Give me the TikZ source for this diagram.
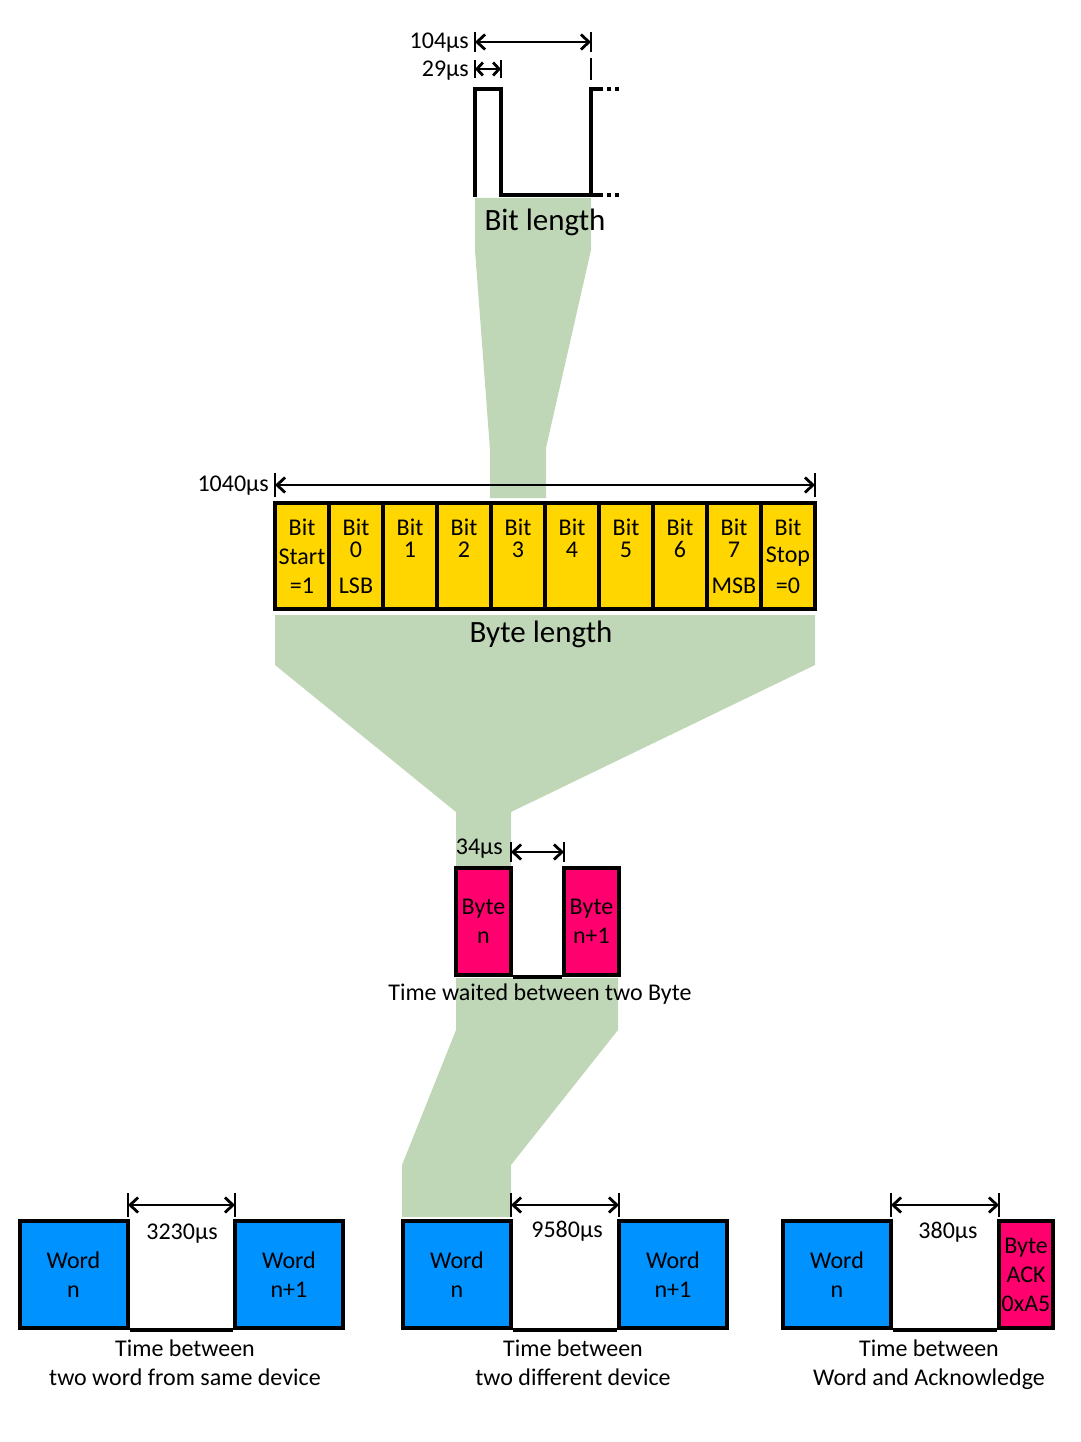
\documentclass[tikz,border=0pt]{standalone}
\usepackage{fontspec}
\setmainfont{Carlito}
\usetikzlibrary{arrows.meta}
\definecolor{bandgreen}{RGB}{192,215,183}
\definecolor{cellyellow}{RGB}{255,214,0}
\definecolor{bytepink}{RGB}{255,0,110}
\definecolor{wordblue}{RGB}{0,146,255}
\tikzset{
 boxline/.style={draw=black,line width=4pt},
 wordbox/.style={boxline,fill=wordblue,minimum width=108pt,minimum height=107pt,inner sep=0pt,align=center,font=\fontsize{24}{29}\selectfont},
 pinkbox/.style={boxline,fill=bytepink,minimum height=107pt,inner sep=0pt,align=center,font=\fontsize{24}{29}\selectfont},
 dimline/.style={line width=2.8pt,{Straight Barb[length=8pt,width=15pt]}-{Straight Barb[length=8pt,width=15pt]}},
 tickline/.style={line width=1.5pt},
 lbl/.style={font=\fontsize{24}{29}\selectfont,inner sep=0pt},
 caption/.style={font=\fontsize{24}{29}\selectfont,inner sep=0pt,align=center,anchor=north},
 pairlbl/.style={font=\fontsize{24}{22}\selectfont,inner sep=0pt,align=center},
 biglbl/.style={font=\fontsize{31}{36}\selectfont,inner sep=0pt},
 wave/.style={line width=4pt,line join=miter},
}
\begin{document}
\begin{tikzpicture}[x=1pt,y=-1pt]
\useasboundingbox (0,0) rectangle (1080,1442);
% green bands
\fill[bandgreen] (475,198) -- (591,198) -- (591,250) -- (546,448) -- (546,498) -- (490,498) -- (490,450) -- (475,250) -- cycle;
\fill[bandgreen] (275,615) -- (815,615) -- (815,665) -- (511,812) -- (511,866) -- (456,866) -- (456,812) -- (275,665) -- cycle;
\fill[bandgreen] (456,978) -- (618,978) -- (618,1030) -- (511,1165) -- (511,1217) -- (402,1217) -- (402,1165) -- (456,1030) -- cycle;

% bit waveform
\draw[wave] (475,197) -- (475,89) -- (501,89) -- (501,195) -- (591,195) -- (591,89) -- (603,89);
\draw[wave] (591,195) -- (603,195);
\foreach \yy in {89,195}{
  \fill (607,\yy-2) rectangle (611,\yy+2);
  \fill (615,\yy-2) rectangle (619,\yy+2);
}
\coordinate (a1) at (475,42); \coordinate (b1) at (591,42);
\coordinate (a2) at (475,69); \coordinate (b2) at (501,69);
\draw[tickline] (475,32) -- (475,52) (591,32) -- (591,52);
\draw[tickline] (475,60) -- (475,78) (501,60) -- (501,78) (591,58) -- (591,80);
\draw[dimline] (a1) -- (b1);
\draw[dimline,{Straight Barb[length=6pt,width=13pt]}-{Straight Barb[length=6pt,width=13pt]}] (a2) -- (b2);
\node[lbl,anchor=east] (l104) at (469,43) {104µs};
\node[lbl,anchor=east] (l29) at (469,71) {29µs};
\node[biglbl] (bitlen) at (545,222) {Bit length};

% byte
\coordinate (a3) at (275,485); \coordinate (b3) at (815,485);
\draw[tickline] (275,473) -- (275,497) (815,473) -- (815,497);
\draw[dimline] (a3) -- (b3);
\node[lbl,anchor=east] (l1040) at (269,486) {1040µs};
\foreach \i in {0,...,9}{
  \draw[boxline,line width=3.5pt,fill=cellyellow] (275+54*\i,503) rectangle (329+54*\i,609);
}
\draw[boxline] (275,503) rectangle (815,609);
\foreach \i/\n in {1/0,2/1,3/2,4/3,5/4,6/5,7/6,8/7}{
  \node[pairlbl] (bt\i) at (302+54*\i,538) {Bit\\\n};
}
\node[lbl] (bt0) at (302,527) {Bit};
\node[lbl] (bs0) at (302,557) {Start};
\node[lbl] (bv0) at (302,586) {=1};
\node[lbl] (bl1) at (356,586) {LSB};
\node[lbl] (bm8) at (734,586) {MSB};
\node[lbl] (bt9) at (788,527) {Bit};
\node[lbl] (bs9) at (788,557) {Stop};
\node[lbl] (bv9) at (788,586) {=0};
\node[biglbl] (bytelen) at (541,634) {Byte length};

% bytes
\coordinate (a4) at (511,852); \coordinate (b4) at (564,852);
\draw[tickline] (511,842) -- (511,862) (564,842) -- (564,862);
\draw[dimline] (a4) -- (b4);
\node[lbl,anchor=east] (l34) at (503,849) {34µs};
\node[pinkbox,minimum width=55pt] (byten) at (483.5,921) {Byte\\n};
\node[pinkbox,minimum width=55pt] (byten1) at (591.5,921) {Byte\\n+1};
\draw[boxline] (byten.south east) -- (byten1.south west);
\node[lbl] (twait) at (540,994) {Time waited between two Byte};

% words group 1
\node[wordbox] (w1n) at (73.5,1274.5) {Word\\n};
\node[wordbox] (w1m) at (289,1274.5) {Word\\n+1};
\draw[boxline] (w1n.south east) -- (w1m.south west);
\draw[tickline] (128,1193) -- (128,1217) (235,1193) -- (235,1217);
\coordinate (a5) at (128,1205); \coordinate (b5) at (235,1205);
\draw[dimline] (a5) -- (b5);
\node[lbl] (l3230) at (182,1234) {3230µs};
\node[caption] (c1) at (185,1340) {Time between\\two word from same device};

% words group 2
\node[wordbox] (w2n) at (457,1274.5) {Word\\n};
\node[wordbox] (w2m) at (673,1274.5) {Word\\n+1};
\draw[boxline] (w2n.south east) -- (w2m.south west);
\draw[tickline] (511,1193) -- (511,1217) (619,1193) -- (619,1217);
\coordinate (a6) at (511,1205); \coordinate (b6) at (619,1205);
\draw[dimline] (a6) -- (b6);
\node[lbl] (l9580) at (567,1231) {9580µs};
\node[caption] (c2) at (573,1340) {Time between\\two different device};

% words group 3
\node[wordbox] (w3n) at (837,1274.5) {Word\\n};
\node[pinkbox,minimum width=54pt] (ack) at (1026,1274.5) {Byte\\ACK\\0xA5};
\draw[boxline] (w3n.south east) -- (ack.south west);
\draw[tickline] (891,1193) -- (891,1217) (999,1193) -- (999,1217);
\coordinate (a7) at (891,1205); \coordinate (b7) at (999,1205);
\draw[dimline] (a7) -- (b7);
\node[lbl] (l380) at (948,1232) {380µs};
\node[caption] (c3) at (929,1340) {Time between\\Word and Acknowledge};
\end{tikzpicture}
\end{document}
